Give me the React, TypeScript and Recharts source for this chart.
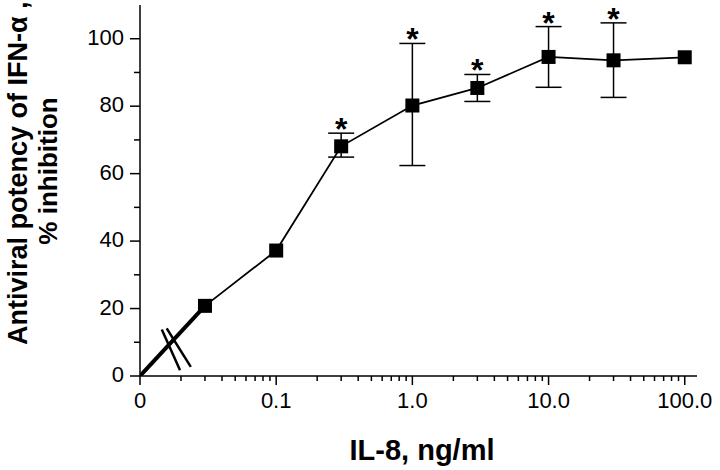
import React from 'react';
import {
  LineChart,
  Line,
  XAxis,
  YAxis,
  ErrorBar,
  LabelList,
  ReferenceLine,
} from 'recharts';

// IL-8 dose (ng/ml) and mean % inhibition
const doses = [0.03, 0.1, 0.3, 1, 3, 10, 30, 100];
const inhibition = [20.8, 37.2, 68.1, 80.2, 85.4, 94.6, 93.6, 94.5];
const errLow = [0, 0, 3.2, 17.8, 4, 9, 11, 0];
const errHigh = [0, 0, 3.9, 18.4, 4, 9, 11.1, 0];
const significant = [false, false, true, true, true, true, true, false];

const xTickDoses = [0, 0.1, 1, 10, 100];
const xTickLabels = ['0', '0.1', '1.0', '10.0', '100.0'];
const xMinorDoses = [
  0.02, 0.03, 0.04, 0.05, 0.06, 0.07, 0.08, 0.09,
  0.2, 0.3, 0.4, 0.5, 0.6, 0.7, 0.8, 0.9,
  2, 3, 4, 5, 6, 7, 8, 9,
  20, 30, 40, 50, 60, 70, 80, 90,
];
const yTicks = [0, 10, 20, 30, 40, 50, 60, 70, 80, 90, 100];

const FONT = '"Liberation Sans", Arial, Helvetica, sans-serif';

// 0 sits at the axis origin, then one unit per decade from 0.1 upward
const toPos = (d: number) => (d === 0 ? 0 : Math.log10(d) + 2);

const rows = doses.map((d, i) => ({
  pos: toPos(d),
  inhibition: inhibition[i],
  err: errLow[i] || errHigh[i] ? [errLow[i], errHigh[i]] : null,
  sigTop: significant[i] ? inhibition[i] + errHigh[i] : null,
}));

const leadRows = [
  { pos: toPos(0), lead: 0 },
  { pos: toPos(doses[0]), lead: inhibition[0] },
];

const majorPos = xTickDoses.map(toPos);
const xTicks = [...majorPos, ...xMinorDoses.map(toPos)];

function XTick({ x, y, payload }: any) {
  const idx = majorPos.indexOf(payload.value);
  const major = idx >= 0;
  return (
    <g>
      <line x1={x} x2={x} y1={y} y2={y + (major ? 9 : 5)} stroke="#000" strokeWidth={1.5} />
      {major && (
        <text x={x} y={y + 32} textAnchor="middle" fontSize={22} fontFamily={FONT} fill="#000">
          {xTickLabels[idx]}
        </text>
      )}
    </g>
  );
}

function YTick({ x, y, payload }: any) {
  const major = payload.value % 20 === 0;
  return (
    <g>
      <line x1={x - (major ? 10 : 6)} x2={x} y1={y} y2={y} stroke="#000" strokeWidth={1.5} />
      {major && (
        <text x={x - 16} y={y + 6} textAnchor="end" fontSize={22} fontFamily={FONT} fill="#000">
          {payload.value}
        </text>
      )}
    </g>
  );
}

function SquareDot({ cx, cy }: any) {
  if (cx == null || cy == null) return null;
  return <rect x={cx - 7} y={cy - 7} width={14} height={14} fill="#000" />;
}

function Star({ x, y, value }: any) {
  if (value == null || y == null) return null;
  return (
    <text x={x} y={y + 7} textAnchor="middle" fontSize={32} fontWeight="bold" fontFamily={FONT} fill="#000">
      *
    </text>
  );
}

function Titles() {
  return (
    <g fontFamily={FONT} fontWeight="bold" fill="#000">
      <text transform="translate(27, 345) rotate(-90)" textAnchor="start" fontSize={27}>
        Antiviral potency of IFN-α ,
      </text>
      <text transform="translate(57, 171) rotate(-90)" textAnchor="middle" fontSize={26}>
        % inhibition
      </text>
      <text x={422} y={460} textAnchor="middle" fontSize={29}>
        IL-8, ng/ml
      </text>
    </g>
  );
}

export default function App() {
  return (
    <div style={{ position: 'absolute', left: 0, top: 0, width: 720, height: 470, background: '#fff' }}>
      <LineChart width={720} height={470} data={rows} margin={{ top: 5, right: 23, bottom: 0, left: 0 }}>
        <XAxis
          type="number"
          dataKey="pos"
          domain={[0, 4.09]}
          ticks={xTicks}
          interval={0}
          tick={<XTick />}
          tickSize={0}
          tickMargin={0}
          tickLine={false}
          height={94}
          allowDataOverflow
          axisLine={{ stroke: '#000', strokeWidth: 1.5 }}
        />
        <YAxis
          type="number"
          domain={[0, 110]}
          ticks={yTicks}
          interval={0}
          tick={<YTick />}
          tickSize={0}
          tickMargin={0}
          tickLine={false}
          width={140}
          allowDataOverflow
          axisLine={{ stroke: '#000', strokeWidth: 1.5 }}
        />
        <Line
          data={leadRows}
          dataKey="lead"
          stroke="#000"
          strokeWidth={4}
          dot={false}
          activeDot={false}
          isAnimationActive={false}
        />
        <ReferenceLine
          segment={[{ x: 0.16, y: 13.8 }, { x: 0.294, y: 1.7 }]}
          stroke="#000"
          strokeWidth={2.5}
        />
        <ReferenceLine
          segment={[{ x: 0.196, y: 14.1 }, { x: 0.373, y: 2.7 }]}
          stroke="#000"
          strokeWidth={2.5}
        />
        <Line
          dataKey="inhibition"
          stroke="#000"
          strokeWidth={1.8}
          dot={<SquareDot />}
          activeDot={false}
          isAnimationActive={false}
        >
          <ErrorBar dataKey="err" direction="y" width={13} stroke="#000" strokeWidth={1.5} />
        </Line>
        <Line
          dataKey="sigTop"
          stroke="none"
          dot={false}
          activeDot={false}
          isAnimationActive={false}
        >
          <LabelList dataKey="sigTop" content={<Star />} />
        </Line>
        <Titles />
      </LineChart>
    </div>
  );
}
